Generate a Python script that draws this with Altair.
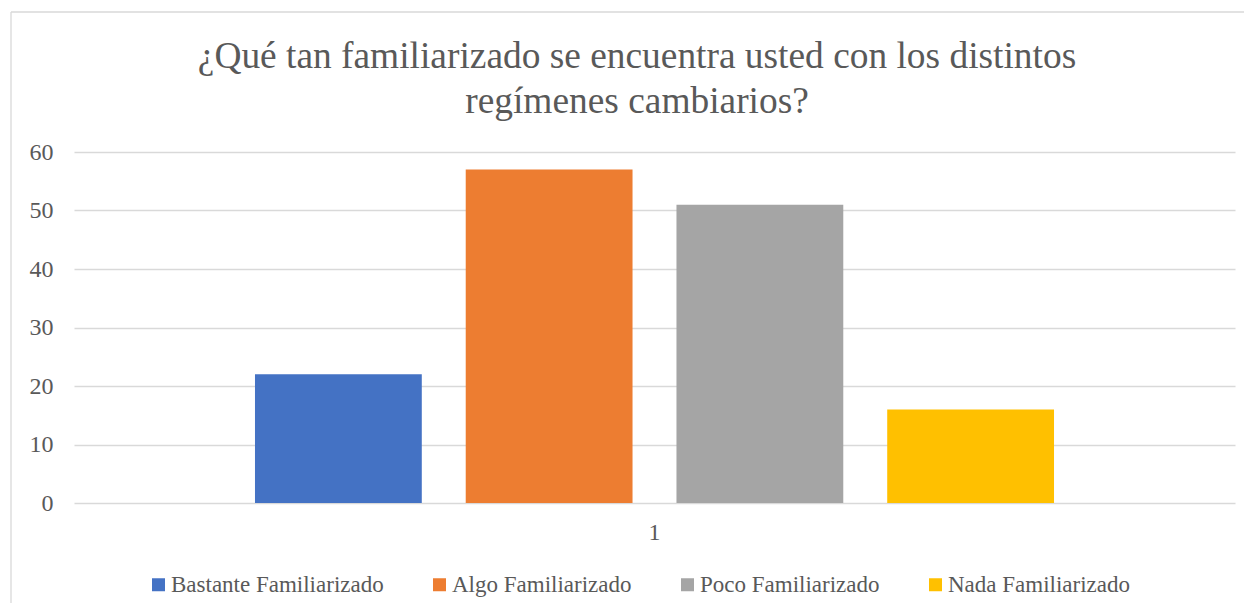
import altair as alt
import pandas as pd

# Data
categoria = ["1", "1", "1", "1"]
series = ["Bastante Familiarizado", "Algo Familiarizado", "Poco Familiarizado", "Nada Familiarizado"]
valores = [22, 57, 51, 16]
colores = ["#4472C4", "#ED7D31", "#A5A5A5", "#FFC000"]
y_ticks = [0, 10, 20, 30, 40, 50, 60]
titulo = ["¿Qué tan familiarizado se encuentra usted con los distintos", "regímenes cambiarios?"]

df = pd.DataFrame({"cat": categoria, "serie": series, "valor": valores})

FONT = "Liberation Serif"
GREY = "#595959"
GRID = "#d9d9d9"

bars = alt.Chart(df).mark_bar().encode(
    x=alt.X("cat:N", title=None,
            scale=alt.Scale(paddingOuter=0.2265, paddingInner=0),
            axis=alt.Axis(labelAngle=0, ticks=False, domain=False, labelPadding=17)),
    xOffset=alt.XOffset("serie:N", sort=series,
                        scale=alt.Scale(paddingInner=0.2085, paddingOuter=0)),
    y=alt.Y("valor:Q", title=None,
            scale=alt.Scale(domain=[0, 60], nice=False),
            axis=alt.Axis(values=y_ticks, ticks=False, domain=False, labelPadding=21,
                          grid=True, gridColor=GRID, gridWidth=1.3)),
    color=alt.Color("serie:N", sort=series,
                    scale=alt.Scale(domain=series, range=colores),
                    legend=alt.Legend(title=None, orient="none", direction="horizontal",
                                      columns=4, legendX=73, legendY=421,
                                      symbolType="square", symbolSize=169,
                                      symbolStrokeWidth=0, labelOffset=1,
                                      columnPadding=44, labelLimit=400)),
)

one = pd.DataFrame({"a": [0]})

border_top = alt.Chart(one).mark_rule(stroke=GRID, strokeWidth=1.3).encode(
    x=alt.value(-63), x2=alt.value(3000), y=alt.value(-140)
)
border_left = alt.Chart(one).mark_rule(stroke=GRID, strokeWidth=1.3).encode(
    x=alt.value(-63), y=alt.value(-140), y2=alt.value(3000)
)

t1 = alt.Chart(one).mark_text(
    font=FONT, fontSize=37.4, color=GREY, align="center", baseline="alphabetic"
).encode(x=alt.value(563), y=alt.value(-84), text=alt.value(titulo[0]))

t2 = alt.Chart(one).mark_text(
    font=FONT, fontSize=37.4, color=GREY, align="center", baseline="alphabetic"
).encode(x=alt.value(563), y=alt.value(-39), text=alt.value(titulo[1]))

chart = alt.layer(border_top, border_left, bars, t1, t2).properties(
    width=1161,
    height=351,
    padding={"left": 66, "top": 144, "right": 9, "bottom": 100},
    autosize=alt.AutoSizeParams(type="none"),
).configure(
    background="white", font=FONT
).configure_view(
    stroke=None
).configure_axis(
    labelFont=FONT, labelFontSize=24, labelColor=GREY
).configure_legend(
    labelFont=FONT, labelFontSize=23, labelColor=GREY
)

chart.save("out.html", embed_options={"renderer": "svg", "actions": False})
